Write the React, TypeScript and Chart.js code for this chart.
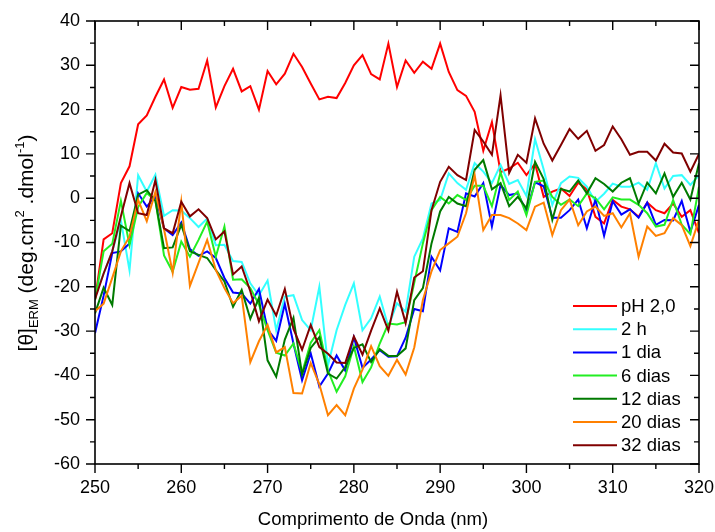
import React, { useEffect, useRef } from "react";
import { Chart, registerables } from "chart.js";

Chart.register(...registerables);

const wavelengths = [
  250, 251, 252, 253, 254, 255, 256, 257, 258, 259, 260, 261, 262, 263, 264, 265, 266, 267, 268, 269,
  270, 271, 272, 273, 274, 275, 276, 277, 278, 279, 280, 281, 282, 283, 284, 285, 286, 287, 288, 289,
  290, 291, 292, 293, 294, 295, 296, 297, 298, 299, 300, 301, 302, 303, 304, 305, 306, 307, 308, 309,
  310, 311, 312, 313, 314, 315, 316, 317, 318, 319, 320,
];

const phAcid = [
  -23, -9.3, -7.9, 3.4, 7.2, 16.7, 18.7, 22.9, 26.8, 20.4, 25.1, 24.5, 24.7, 31.1, 20.5, 25.3, 29.2, 24.1, 25.3, 20,
  28.7, 25.7, 28.1, 32.6, 29.6, 25.9, 22.3, 22.9, 22.6, 26, 30, 32.3, 28, 26.8, 34.9, 25.1, 31.1, 28.3, 30.8, 29.2,
  34.9, 28.5, 24.4, 23.1, 19.5, 10.7, 17.2, 5.9, 6.7, 8, 5.2, 7.8, 0.3, 1.5, 2.2, 0.5, 3.5, 2, -4.2, -5.7,
  -0.4, -1.9, -2.5, -4.2, -1, -2.7, -3.4, -1.2, -4.2, -2.7, -7.9,
];

const h2 = [
  -22, -17, -12, -5, -16.3, 5.2, 1.5, 5.3, -4, -2.7, -2.8, -4.5, -6.5, -4.6, -10.6, -10.5, -14.2, -14.4, -19.2, -21.9,
  -18.6, -29.8, -22.2, -21.9, -27.5, -29.8, -20, -37.7, -29.8, -24.1, -19.2, -29.8, -27.1, -22.2, -29, -23.7, -25.6, -13.2, -9.1, -1.2,
  -0.4, 5.6, 3.4, 1.9, 7.9, 6, 3.4, 7.5, 3.2, 4.1, 0.5, 13.3, 6.5, -1.5, 3.4, 4.9, 4.6, 2.6, -0.8, 1,
  3.3, 2.6, 2.6, 3.5, 1.9, 7.9, 2.2, 5, 5.2, 3, 5.2,
];

const d1 = [
  -30.5, -22, -12.4, -12, -10.2, 1.1, -1.9, 0.4, -6.8, -8.3, -5.5, -11.5, -13, -12, -13.5, -18, -21.3, -21.5, -23.8, -20.5,
  -29.6, -32.2, -23.9, -32.8, -41.1, -35, -42.5, -39.6, -35.5, -38.9, -31.4, -38.3, -36.4, -34.3, -35.8, -35.7, -31.5, -25, -25.5, -13.2,
  -16.3, -6.8, -7.6, 1.1, 0.4, 3.4, -6.4, 3, 0.7, 1.1, -3, 3.6, 2.7, -4.4, -4.4, -2.7, -0.3, -6.8, -0.3, -8.5,
  -0.7, -3.7, -2.5, -4.4, -1, -6, -4.9, -5, -0.6, -7.6, -1.5,
];

const d6 = [
  -23, -12, -10.3, -0.6, -10.6, -2, 1.2, -0.5, -12.9, -16.6, -9.8, -13.2, -9.4, -5.3, -13.2, -6.4, -18.4, -18.3, -20.3, -24,
  -29.8, -34.9, -35.5, -32.8, -39.4, -32.6, -29.8, -38.9, -43.7, -40.2, -33.4, -41.5, -38.2, -32.8, -28.3, -28.5, -28, -19.1, -10.2, -2.7,
  0.3, -1.2, 0.7, -0.4, 2.8, 2.8, -1.8, 5.8, -0.4, 1.5, -3.8, 3.7, 4, 0.3, -1.5, -0.3, -1.8, 1.1, 0, -2.5,
  0.2, -0.3, -0.3, -1.5, -3.4, -6.4, -6, -0.4, -6, -8.1, 2.6,
];

const d12 = [
  -26, -20.2, -24.1, -6.2, -7.4, 0.8, 1.8, -0.6, -11.3, -11.1, -6, -12, -12.8, -13.5, -16.2, -18.8, -24.5, -20.7, -27.2, -22.5,
  -36.6, -40.3, -31.9, -27, -39.8, -33.8, -31.4, -39.6, -40.7, -38.1, -33.8, -33, -37, -34.1, -35.6, -35.6, -33.9, -23, -20.3, -10.2,
  -3, 0.3, -1.2, -1.8, 6.4, 8.6, 2, 3.4, -1.8, 0.3, -2.3, 8.2, 4.3, -4.9, 2.1, 1.5, 4, 1.1, 4.5, 3.2,
  1.5, 3.5, 4.5, -1.2, 3.5, 1.1, 5.6, 0.3, 3.5, -0.3, 7.9,
];

const d20 = [
  -25.5, -23.8, -18, -12, -8.7, -0.4, -5.2, 1.4, -7, -16.8, -0.8, -19.8, -14.6, -9.4, -16.2, -20.3, -23.7, -22, -37, -32.3,
  -28.6, -34.8, -33.6, -44, -44.1, -37.2, -42, -49, -46.7, -49, -43, -38.7, -33.4, -37.9, -40.1, -36.5, -39.8, -33.7, -23, -16.5,
  -11.7, -10.2, -8.7, -3.4, 5.2, -7.2, -3.8, -3.8, -4.5, -5.7, -7.2, -1.9, -1, -8.3, -2.7, -0.3, -6.1, -3, -1.9, -4,
  -3.4, -6.6, -3.4, -13.2, -6.4, -8.5, -7.9, -4.5, -6.1, -10.8, -4.9,
];

const d32 = [
  -22.8, -17, -12, -4.1, 3.4, -3.4, -3.8, 4.1, -6.8, -7.9, -0.8, -4.1, -2.5, -4.5, -9.3, -7.5, -17.2, -15.4, -21, -27.8,
  -22.9, -26.5, -20.5, -29.5, -34.2, -28.6, -33.6, -35.1, -37.1, -37.2, -31.2, -35.3, -29.9, -24.9, -29.9, -21.1, -28.2, -17.9, -16.5, -2.7,
  3.7, 7.1, 5.2, 4.1, 15.4, 12.8, 9.8, 23.2, 5.7, 9.8, 8, 18, 12.3, 8.5, 12, 15.6, 13.4, 15.2, 10.7, 12,
  16.2, 13.3, 9.8, 10.5, 10.5, 8.5, 12.3, 10.3, 10.1, 6, 10,
];

const seriesLabels = ["pH 2,0", "2 h", "1 dia", "6 dias", "12 dias", "20 dias", "32 dias"];
const seriesColors = ["#FF0000", "#33FFFF", "#0000FF", "#22EE22", "#007A00", "#FF8000", "#800000"];
const seriesValues = [phAcid, h2, d1, d6, d12, d20, d32];

const FONT = "'Liberation Sans', Arial, sans-serif";

const framePlugin = {
  id: "originFrame",
  afterDatasetsDraw(chart: any) {
    const { ctx, chartArea } = chart;
    const xs = chart.scales.x;
    const ys = chart.scales.y;
    const { left, right, top, bottom } = chartArea;
    ctx.save();
    ctx.strokeStyle = "#000";
    ctx.lineWidth = 1.6;
    ctx.strokeRect(left, top, right - left, bottom - top);
    const major = 9;
    const minor = 5;
    ctx.lineWidth = 1.4;
    ctx.beginPath();
    const xt = xs.ticks.map((t: any) => t.value);
    for (let i = 0; i < xt.length; i++) {
      const px = xs.getPixelForValue(xt[i]);
      ctx.moveTo(px, bottom);
      ctx.lineTo(px, bottom + major);
      ctx.moveTo(px, top);
      ctx.lineTo(px, top + major);
      if (i < xt.length - 1) {
        const pm = xs.getPixelForValue((xt[i] + xt[i + 1]) / 2);
        ctx.moveTo(pm, bottom);
        ctx.lineTo(pm, bottom + minor);
        ctx.moveTo(pm, top);
        ctx.lineTo(pm, top + minor);
      }
    }
    const yt = ys.ticks.map((t: any) => t.value);
    for (let i = 0; i < yt.length; i++) {
      const py = ys.getPixelForValue(yt[i]);
      ctx.moveTo(left, py);
      ctx.lineTo(left - major, py);
      ctx.moveTo(right, py);
      ctx.lineTo(right - major, py);
      if (i < yt.length - 1) {
        const pm = ys.getPixelForValue((yt[i] + yt[i + 1]) / 2);
        ctx.moveTo(left, pm);
        ctx.lineTo(left - minor, pm);
        ctx.moveTo(right, pm);
        ctx.lineTo(right - minor, pm);
      }
    }
    ctx.stroke();

    // legend
    const lx0 = 573;
    const lx1 = 617;
    let ly = 306;
    ctx.font = `18.5px ${FONT}`;
    ctx.textBaseline = "middle";
    ctx.textAlign = "left";
    chart.data.datasets.forEach((ds: any) => {
      ctx.strokeStyle = ds.borderColor;
      ctx.lineWidth = 2;
      ctx.beginPath();
      ctx.moveTo(lx0, ly);
      ctx.lineTo(lx1, ly);
      ctx.stroke();
      ctx.fillStyle = "#000";
      ctx.fillText(ds.label, lx1 + 4, ly + 1);
      ly += 23.2;
    });

    // x title
    ctx.font = `18.5px ${FONT}`;
    ctx.textAlign = "center";
    ctx.textBaseline = "alphabetic";
    ctx.fillText("Comprimento de Onda (nm)", 373, 525);

    // y title with sub/superscripts
    const parts: { t: string; size: number; dy: number }[] = [
      { t: "[θ]", size: 21, dy: 0 },
      { t: "ERM", size: 13, dy: 5 },
      { t: " (deg.cm", size: 21, dy: 0 },
      { t: "2", size: 13, dy: -9 },
      { t: " .dmol", size: 21, dy: 0 },
      { t: "-1", size: 13, dy: -9 },
      { t: ")", size: 21, dy: 0 },
    ];
    let total = 0;
    const widths = parts.map((p) => {
      ctx.font = `${p.size}px ${FONT}`;
      const w = ctx.measureText(p.t).width;
      total += w;
      return w;
    });
    ctx.translate(33, 243);
    ctx.rotate(-Math.PI / 2);
    ctx.textAlign = "left";
    let cx = -total / 2;
    parts.forEach((p, i) => {
      ctx.font = `${p.size}px ${FONT}`;
      ctx.fillText(p.t, cx, p.dy);
      cx += widths[i];
    });
    ctx.restore();
  },
};

export default function App() {
  const ref = useRef<HTMLCanvasElement | null>(null);
  useEffect(() => {
    document.body.style.margin = "0";
    const canvas = ref.current;
    if (!canvas) return;
    const datasets = seriesLabels.map((label, i) => ({
      label,
      data: wavelengths.map((w, j) => ({ x: w, y: seriesValues[i][j] })),
      borderColor: seriesColors[i],
      backgroundColor: seriesColors[i],
      borderWidth: 2,
      pointRadius: 0,
      tension: 0,
      fill: false,
      order: seriesLabels.length - i,
    }));
    const chart = new Chart(canvas, {
      type: "line",
      data: { datasets },
      options: {
        animation: false,
        responsive: false,
        maintainAspectRatio: false,
        layout: { padding: { top: 21, right: 16, left: 0, bottom: 0 } },
        plugins: { legend: { display: false }, tooltip: { enabled: false }, title: { display: false } },
        scales: {
          x: {
            type: "linear",
            min: 250,
            max: 320,
            grid: { display: false },
            border: { display: false },
            ticks: {
              stepSize: 10,
              padding: 5,
              color: "#000",
              font: { size: 18, family: FONT },
              maxRotation: 0,
            },
            afterFit: (s: any) => {
              s.height = 68;
              s.paddingLeft = 0;
              s.paddingRight = 0;
            },
          },
          y: {
            type: "linear",
            min: -60,
            max: 40,
            grid: { display: false },
            border: { display: false },
            ticks: {
              stepSize: 10,
              padding: 7,
              color: "#000",
              font: { size: 18, family: FONT },
            },
            afterFit: (s: any) => {
              s.width = 95;
              s.paddingTop = 0;
              s.paddingBottom = 0;
            },
          },
        },
      },
      plugins: [framePlugin],
    });
    return () => chart.destroy();
  }, []);
  return (
    <div style={{ width: 715, height: 532 }}>
      <canvas ref={ref} width={715} height={532} style={{ display: "block" }} />
    </div>
  );
}
